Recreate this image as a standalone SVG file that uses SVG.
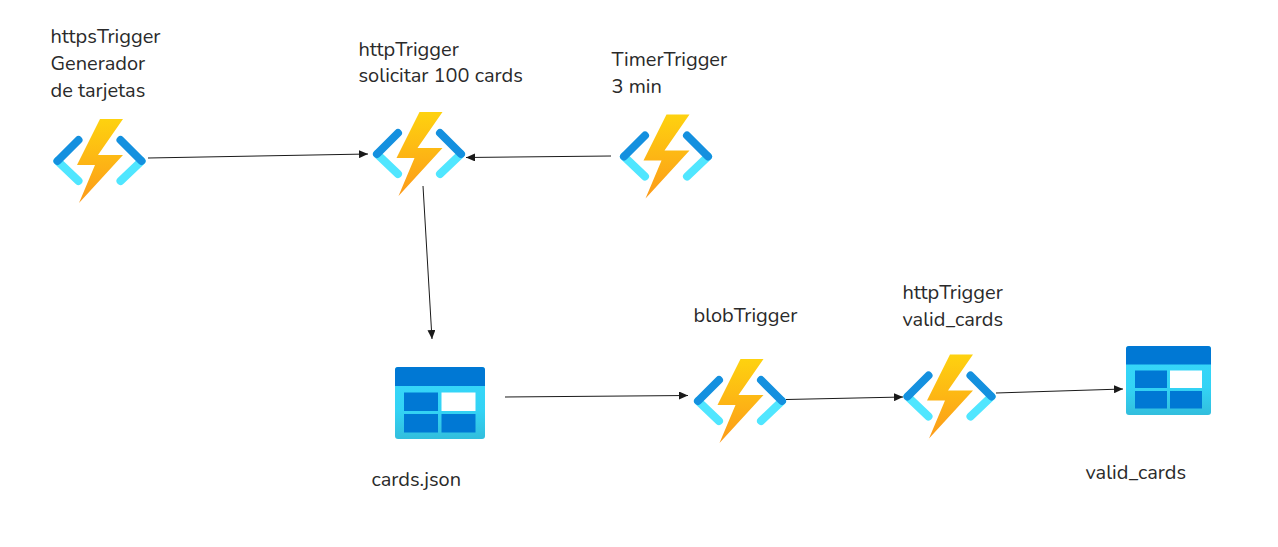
<svg xmlns="http://www.w3.org/2000/svg" width="1278" height="547" viewBox="0 0 1278 547">
<style>
text{font-family:"Nunito","Noto Sans","Open Sans",sans-serif;font-size:20px;fill:#2a2a2a}
.c{fill:none;stroke:#1a1a1a;stroke-width:1}
.d{stroke:#1490df;stroke-width:8;stroke-linecap:round;fill:none}
.l{stroke:#50e6ff;stroke-width:8;stroke-linecap:round;fill:none}
.h{fill:#0078d4}.w{fill:#fff}
</style>
<defs>
<linearGradient id="b" x1="0" y1="0" x2="0" y2="1"><stop offset="0" stop-color="#fed20f"/><stop offset="1" stop-color="#fc9a1a"/></linearGradient>
<linearGradient id="s" x1="0" y1="0" x2="0" y2="1"><stop offset="0" stop-color="#37d8fb"/><stop offset="0.6" stop-color="#33d3f5"/><stop offset="1" stop-color="#32bedd"/></linearGradient>
<marker id="a" markerUnits="userSpaceOnUse" markerWidth="10" markerHeight="8" refX="9" refY="4" orient="auto"><path d="M0 0L9 4L0 8Z" fill="#1a1a1a"/></marker>
<g id="fn">
<path class="l" d="M4.500 42L25.500 62M88.500 42L67.500 62"/>
<path class="d" d="M25.500 21L4.500 42M67.500 21L88.500 42"/>
<path fill="url(#b)" d="M47 0H70L45 36H70L26 84L42 46H24Z"/>
</g>
</defs>
<g id="connectors">
<path class="c" marker-end="url(#a)" d="M148 158L368 154"/>
<path class="c" marker-end="url(#a)" d="M611 156L466 157.500"/>
<path class="c" marker-end="url(#a)" d="M423 186L432 339"/>
<path class="c" marker-end="url(#a)" d="M505 397L688 395.500"/>
<path class="c" marker-end="url(#a)" d="M786 399.500L903 397"/>
<path class="c" marker-end="url(#a)" d="M996 393L1123 389"/>
</g>
<g id="n1"><use href="#fn" x="53" y="119"/><text x="50.500" y="43">httpsTrigger</text><text x="50.500" y="70">Generador</text><text x="50.500" y="97">de tarjetas</text></g>
<g id="n2"><use href="#fn" x="372.500" y="112"/><text x="358.500" y="56">httpTrigger</text><text x="358.500" y="82">solicitar 100 cards</text></g>
<g id="n3"><use href="#fn" x="619.500" y="114.500"/><text x="611.500" y="66">TimerTrigger</text><text x="611.500" y="93">3 min</text></g>
<g id="n4"><rect x="395" y="367" width="90" height="72" rx="3" fill="url(#s)"/><path class="h" d="M395 386V370a3 3 0 0 1 3-3H482a3 3 0 0 1 3 3V386Z"/><rect class="h" x="404" y="392.500" width="34" height="18.500"/><rect class="w" x="441.500" y="392.500" width="34" height="18.500"/><rect class="h" x="404" y="414" width="34" height="18.500"/><rect class="h" x="441.500" y="414" width="34" height="18.500"/><text x="371.500" y="486">cards.json</text></g>
<g id="n5"><use href="#fn" x="693.500" y="359"/><text x="693.500" y="322">blobTrigger</text></g>
<g id="n6"><use href="#fn" x="903" y="354.500"/><text x="902.500" y="299">httpTrigger</text><text x="902.500" y="326">valid_cards</text></g>
<g id="n7"><rect x="1126" y="346" width="85" height="69" rx="3" fill="url(#s)"/><path class="h" d="M1126 364.500V349a3 3 0 0 1 3-3H1208a3 3 0 0 1 3 3V364.500Z"/><rect class="h" x="1135" y="370.500" width="32" height="17.500"/><rect class="w" x="1170" y="370.500" width="32" height="17.500"/><rect class="h" x="1135" y="391" width="32" height="17.500"/><rect class="h" x="1170" y="391" width="32" height="17.500"/><text x="1085.500" y="479">valid_cards</text></g>
</svg>
